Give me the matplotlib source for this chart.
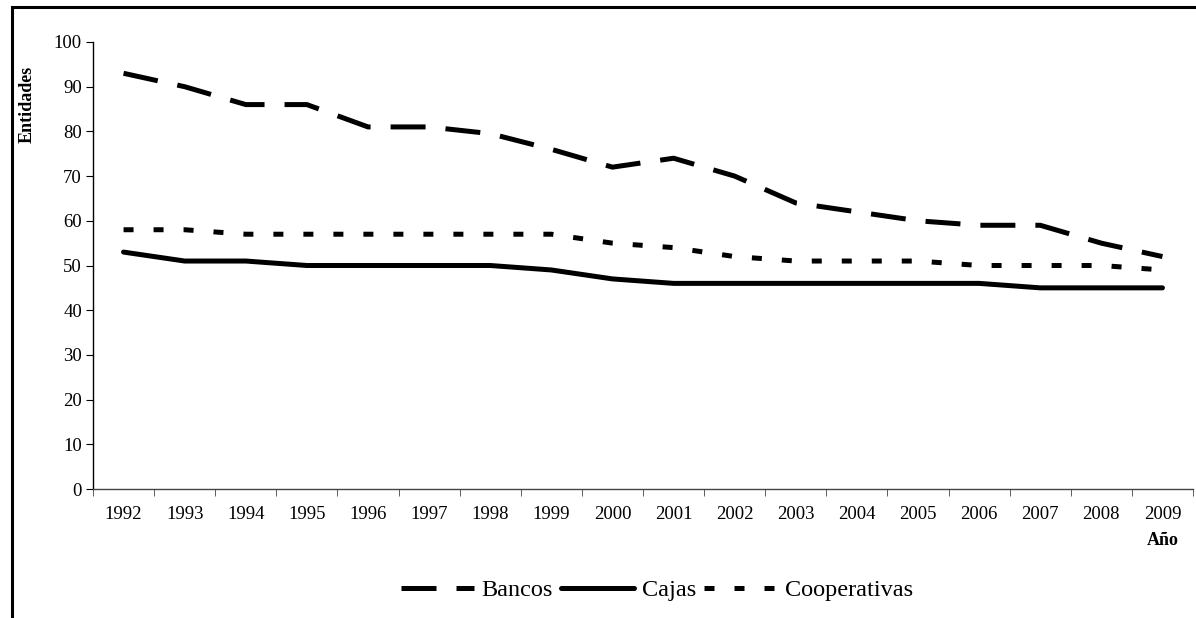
import numpy as np
from matplotlib import pyplot as plt
import matplotlib as mpl
from matplotlib.patches import Rectangle

years = ['1992', '1993', '1994', '1995', '1996', '1997', '1998', '1999', '2000',
         '2001', '2002', '2003', '2004', '2005', '2006', '2007', '2008', '2009']
bancos = [93, 90, 86, 86, 81, 81, 79.5, 76, 72, 74, 70, 64, 62, 60, 59, 59, 55, 52]
cajas = [53, 51, 51, 50, 50, 50, 50, 49, 47, 46, 46, 46, 46, 46, 46, 45, 45, 45]
cooperativas = [58, 58, 57, 57, 57, 57, 57, 57, 55, 54, 52, 51, 51, 51, 50, 50, 50, 49]


def set_mpl():
    mpl.rcParams.update(
        {
            'font.family': ['Liberation Serif', 'DejaVu Serif'],
            'font.size': 13.5,
            'axes.linewidth': 1.0,
        }
    )


def plot_figure():
    set_mpl()
    fig = plt.figure(figsize=(11.96, 6.18), dpi=100)
    ax = fig.add_axes([93 / 1196, 1 - 489 / 618, 1100 / 1196, 447 / 618])

    x = np.arange(len(years))
    lw = 3.6
    ax.plot(x, bancos, color='black', lw=lw, dashes=(7, 4), dash_capstyle='butt', label='Bancos')
    ax.plot(x, cajas, color='black', lw=lw, solid_capstyle='round', label='Cajas')
    ax.plot(x, cooperativas, color='black', lw=lw, dashes=(2, 4), dash_capstyle='butt', label='Cooperativas')

    ax.set_xlim(-0.5, len(years) - 0.5)
    ax.set_ylim(0, 100)
    ax.set_yticks(range(0, 101, 10))
    ax.set_xticks(x)
    ax.set_xticklabels(years)
    ax.set_xticks(np.arange(len(years) + 1) - 0.5, minor=True)
    ax.tick_params(axis='x', which='major', length=0, pad=12)
    ax.tick_params(axis='x', which='minor', length=5, direction='out', color='#444444')
    ax.tick_params(axis='y', length=5, direction='out', pad=3)

    for s in ['top', 'right']:
        ax.spines[s].set_visible(False)
    ax.spines['bottom'].set_color('#444444')

    ax.text(17, -0.115, 'Año', transform=ax.get_xaxis_transform(), ha='center', va='center',
            fontsize=13, fontweight='bold')
    fig.text(27 / 1196, 1 - 104 / 618, 'Entidades', rotation=90, ha='center', va='center',
             fontsize=13, fontweight='bold')

    fig.legend(loc='center', bbox_to_anchor=(657 / 1196, 1 - 590 / 618), ncol=3, frameon=False,
               fontsize=17.5, handlelength=3.0, handletextpad=0.3, columnspacing=0.35)

    fig.patches.append(Rectangle((12 / 1196, -0.1), 1.2, 1.1 - 7 / 618 + 0.0, transform=fig.transFigure,
                                 fill=False, edgecolor='black', lw=2.2))

    plt.savefig('out.png', dpi=100)


if __name__ == "__main__":
    plot_figure()
